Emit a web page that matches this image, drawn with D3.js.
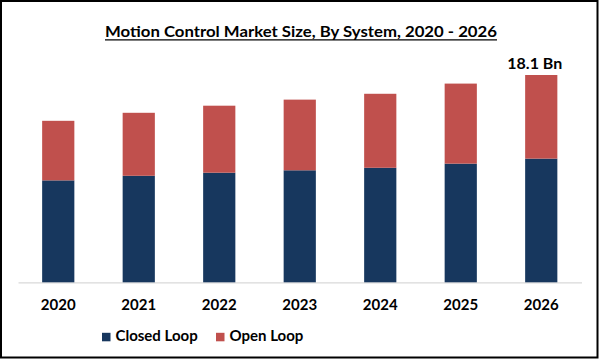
<!DOCTYPE html>
<html>
<head>
<meta charset="utf-8">
<script src="https://cdn.jsdelivr.net/npm/d3@7"></script>
<style>
  html, body { margin: 0; padding: 0; background: #fff; }
  svg { display: block; }
</style>
</head>
<body>
<svg id="chart" width="600" height="360"></svg>
<script>
const years = ["2020", "2021", "2022", "2023", "2024", "2025", "2026"];
const closedLoop = [8.9, 9.3, 9.57, 9.78, 10.0, 10.36, 10.8];
const openLoop = [5.2, 5.5, 5.85, 6.17, 6.46, 6.99, 7.3];
const seriesNames = ["Closed Loop", "Open Loop"];
const seriesColors = ["#17375E", "#C0504D"];
const title = "Motion Control Market Size, By System, 2020 - 2026";
const lastLabel = "18.1 Bn";

const svg = d3.select("#chart");
const font = "Lato, 'Open Sans', sans-serif";

// border
svg.append("rect").attr("x", 1).attr("y", 1).attr("width", 596.5).attr("height", 356.5)
  .attr("fill", "#fff").attr("stroke", "#000").attr("stroke-width", 2);

// title
const t = svg.append("text").attr("x", 301).attr("y", 37).attr("text-anchor", "middle")
  .attr("font-family", font).attr("font-weight", "bold").attr("font-size", 14.5)
  .attr("fill", "#000").attr("textLength", 392).attr("lengthAdjust", "spacingAndGlyphs")
  .text(title);
const tb = t.node().getBBox();
svg.append("line").attr("x1", tb.x).attr("x2", tb.x + tb.width).attr("y1", 39.8).attr("y2", 39.8)
  .attr("stroke", "#000").attr("stroke-width", 1.2);

const data = years.map((y, i) => ({ year: y, closed: closedLoop[i], open: openLoop[i] }));
const stack = d3.stack().keys(["closed", "open"])(data);

const x = d3.scaleBand().domain(years).range([18, 581.5]).paddingInner(0.6).paddingOuter(0.3);
const total = closedLoop[6] + openLoop[6];
const y = d3.scaleLinear().domain([0, total]).range([282.3, 75]);

// axis line
const xAxis = d3.axisBottom(x).tickSize(0).tickPadding(0);
const ax = svg.append("g").attr("transform", "translate(0,282.3)").call(xAxis);
ax.select(".domain").attr("stroke", "#d9d9d9").attr("stroke-width", 1.2);
ax.selectAll(".tick text").attr("font-family", font).attr("font-weight", "bold")
  .attr("font-size", 15).attr("fill", "#000").attr("dy", 0).attr("y", 28);

// bars
stack.forEach((s, si) => {
  svg.append("g").attr("fill", seriesColors[si])
    .selectAll("rect").data(s).join("rect")
    .attr("x", d => x(d.data.year))
    .attr("width", x.bandwidth())
    .attr("y", d => y(d[1]))
    .attr("height", d => y(d[0]) - y(d[1]));
});

// top label
svg.append("text").attr("x", x(years[6]) + x.bandwidth() / 2 - 6.5).attr("y", 69)
  .attr("text-anchor", "middle").attr("font-family", font).attr("font-weight", "bold")
  .attr("font-size", 16).attr("fill", "#000").text(lastLabel);

// legend
const legendX = [102, 216];
seriesNames.forEach((n, i) => {
  const g = svg.append("g").attr("transform", `translate(${legendX[i]},0)`);
  g.append("rect").attr("x", 0).attr("y", 332.8).attr("width", 8.5).attr("height", 8.5)
    .attr("fill", seriesColors[i]);
  g.append("text").attr("x", 13.5).attr("y", 341).attr("font-family", font)
    .attr("font-weight", "bold").attr("font-size", 15).attr("fill", "#000").text(n);
});
</script>
</body>
</html>
